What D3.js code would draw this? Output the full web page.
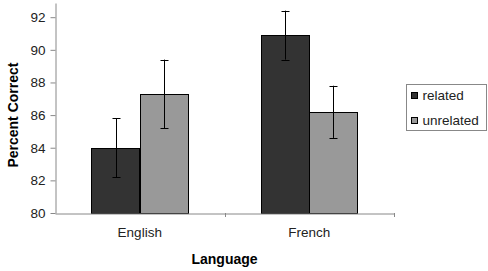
<!DOCTYPE html>
<html>
<head>
<meta charset="utf-8">
<script src="https://cdn.jsdelivr.net/npm/d3@7"></script>
<style>
  body { margin: 0; background: #fff; }
  svg text { font-family: "Liberation Sans", Arial, sans-serif; }
</style>
</head>
<body>
<svg id="chart" width="488" height="271"></svg>
<script>
// data
const languages = ['English', 'French'];
const conditions = ['related', 'unrelated'];
const meanRelated = [84.0, 90.9];
const meanUnrelated = [87.3, 86.2];
const errRelated = [1.8, 1.5];
const errUnrelated = [2.1, 1.6];
const yTicks = [80, 82, 84, 86, 88, 90, 92];
const colors = ['#333333', '#999999'];

const rows = [];
languages.forEach((lang, i) => {
  rows.push({ lang, cond: 'related', value: meanRelated[i], err: errRelated[i] });
  rows.push({ lang, cond: 'unrelated', value: meanUnrelated[i], err: errUnrelated[i] });
});

const margin = { left: 55, right: 94, top: 3, bottom: 58 };
const width = 488, height = 271;
const svg = d3.select('#chart');

const x = d3.scaleBand()
  .domain(languages)
  .range([margin.left, width - margin.right])
  .paddingInner(0).paddingOuter(0);

const x1 = d3.scaleBand()
  .domain(conditions)
  .range([0, x.bandwidth()])
  .paddingOuter(0.755);

const y = d3.scaleLinear()
  .domain([80, 92.87])
  .range([height - margin.bottom, margin.top]);

const color = d3.scaleOrdinal().domain(conditions).range(colors);

// bars
svg.append('g')
  .selectAll('rect')
  .data(rows)
  .join('rect')
    .attr('x', d => Math.round(x(d.lang) + x1(d.cond)) + 0.5)
    .attr('y', d => Math.round(y(d.value)) + 0.5)
    .attr('width', Math.round(x1.bandwidth()))
    .attr('height', d => Math.round(y(80)) - Math.round(y(d.value)))
    .attr('fill', d => color(d.cond))
    .attr('stroke', '#000')
    .attr('stroke-width', 1);

// error bars
const eb = svg.append('g')
  .selectAll('g')
  .data(rows)
  .join('g')
    .attr('transform', d => `translate(${Math.round(x(d.lang) + x1(d.cond) + x1.bandwidth() / 2) + 0.5},0)`);
eb.append('line')
  .attr('y1', d => y(d.value + d.err))
  .attr('y2', d => y(d.value - d.err))
  .attr('stroke', '#000');
eb.append('line')
  .attr('x1', -4).attr('x2', 4)
  .attr('y1', d => Math.round(y(d.value + d.err)) + 0.5)
  .attr('y2', d => Math.round(y(d.value + d.err)) + 0.5)
  .attr('stroke', '#000');
eb.append('line')
  .attr('x1', -4).attr('x2', 4)
  .attr('y1', d => Math.round(y(d.value - d.err)) + 0.5)
  .attr('y2', d => Math.round(y(d.value - d.err)) + 0.5)
  .attr('stroke', '#000');

// y axis
const yAxis = svg.append('g')
  .attr('transform', `translate(${margin.left + 0.5},0)`)
  .call(d3.axisLeft(y).tickValues(yTicks).tickSize(5).tickPadding(5).tickSizeOuter(0));
yAxis.select('.domain').attr('stroke', '#888');
yAxis.selectAll('.tick line').attr('stroke', '#888');
yAxis.selectAll('.tick text').attr('font-size', 13.5).attr('fill', '#222');

// x axis
const xAxis = svg.append('g')
  .attr('transform', `translate(0,${Math.round(y(80)) + 0.5})`)
  .call(d3.axisBottom(x).tickSize(0).tickPadding(14));
xAxis.select('.domain').attr('stroke', '#888');
xAxis.selectAll('.tick text').attr('font-size', 13.5).attr('fill', '#222');
// category boundary ticks
svg.append('g')
  .selectAll('line')
  .data(languages)
  .join('line')
    .attr('x1', d => Math.round(x(d) + x.bandwidth()) + 0.5)
    .attr('x2', d => Math.round(x(d) + x.bandwidth()) + 0.5)
    .attr('y1', y(80))
    .attr('y2', y(80) + 4)
    .attr('stroke', '#888');

// axis titles
svg.append('text')
  .attr('transform', `translate(18,${(y(80) + y(92)) / 2}) rotate(-90)`)
  .attr('text-anchor', 'middle')
  .attr('font-size', 14)
  .attr('font-weight', 'bold')
  .text('Percent Correct');

svg.append('text')
  .attr('x', (x.range()[0] + x.range()[1]) / 2)
  .attr('y', 264)
  .attr('text-anchor', 'middle')
  .attr('font-size', 14)
  .attr('font-weight', 'bold')
  .text('Language');

// legend
const legend = svg.append('g').attr('transform', 'translate(406.5,84.5)');
legend.append('rect')
  .attr('width', 80).attr('height', 46)
  .attr('fill', '#fff').attr('stroke', '#888');
const item = legend.selectAll('g.item')
  .data(conditions)
  .join('g')
    .attr('class', 'item')
    .attr('transform', (d, i) => `translate(5,${11 + i * 25})`);
item.append('rect')
  .attr('x', 0).attr('y', -3)
  .attr('width', 6).attr('height', 6)
  .attr('fill', d => color(d))
  .attr('stroke', '#000');
item.append('text')
  .attr('x', 11).attr('y', 4.5)
  .attr('font-size', 13.5)
  .attr('fill', '#222')
  .text(d => d);
</script>
</body>
</html>
